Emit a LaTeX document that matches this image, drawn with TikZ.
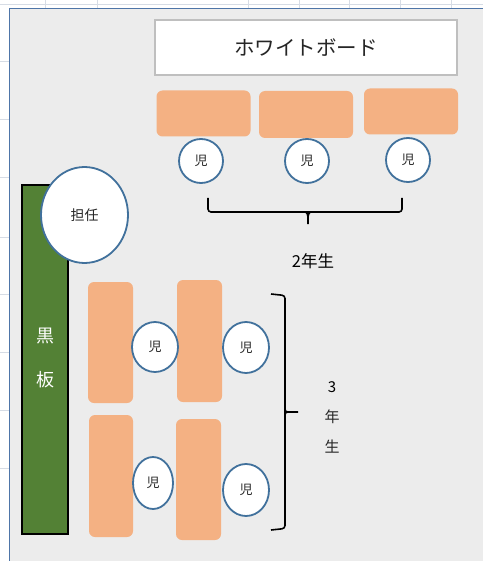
\documentclass[tikz,border=0pt]{standalone}
\usepackage{fontspec}
\setmainfont{Noto Sans CJK JP}
\usetikzlibrary{shapes.geometric}
\definecolor{deskc}{HTML}{F4B183}
\definecolor{boardg}{HTML}{538135}
\definecolor{ringc}{HTML}{41719C}
\definecolor{panelc}{HTML}{ECECEC}
\definecolor{gridc}{HTML}{D6DCE5}
\definecolor{edgec}{HTML}{4E75A8}
\definecolor{wbedge}{HTML}{BFBFBF}
\definecolor{txtc}{HTML}{262626}
\tikzset{
  desk/.style={fill=deskc, draw=none, rounded corners=6pt, inner sep=0pt},
  kid/.style={ellipse, draw=ringc, line width=1.8pt, fill=white, inner sep=0pt, font=\fontsize{13}{13}\selectfont, text=txtc},
  brace/.style={line width=1.6pt, black},
  gridl/.style={gridc, line width=1pt}
}
\begin{document}
\begin{tikzpicture}[x=1pt,y=-1pt]
\useasboundingbox (0,0) rectangle (483,561);
\fill[white] (0,0) rectangle (483,561);
% spreadsheet grid
\draw[gridl] (0,5) -- (483,5);
\foreach \gx in {45,97,248,299,349,400,451} \draw[gridl] (\gx,0) -- (\gx,9);
\foreach \gy in {62,120,178,237,294,352,410,468} \draw[gridl] (0,\gy) -- (10,\gy);
% panel
\fill[panelc] (9.5,8.5) rectangle (483,561);
\draw[edgec, line width=1.6pt] (9.5,561) -- (9.5,8.5) -- (483,8.5);
% whiteboard
\node[draw=wbedge, line width=1.4pt, fill=white, minimum width=302pt, minimum height=55pt, inner sep=0pt, font=\fontsize{20.5}{20.5}\selectfont, text=txtc] (wb) at (306,47.5) {ホワイトボード};
% top desks
\node[desk, minimum width=94pt, minimum height=46pt] (d1) at (203.5,113.5) {};
\node[desk, minimum width=94pt, minimum height=47pt] (d2) at (306,114.5) {};
\node[desk, minimum width=94pt, minimum height=46pt] (d3) at (411,111.5) {};
% top kids
\node[kid, minimum width=44pt, minimum height=44pt] (k1) at (201,161) {児};
\node[kid, minimum width=44pt, minimum height=44pt] (k2) at (307,161) {児};
\node[kid, minimum width=44pt, minimum height=44pt] (k3) at (408,160) {児};
% top brace
\coordinate (b2l) at (208,198);
\coordinate (b2r) at (402,198);
\coordinate (b2t) at (308,224);
\draw[brace, rounded corners=3pt] (b2l) -- (208,212) -- (402,212) -- (b2r);
\draw[brace] (302,212) .. controls (307,212) .. (308,217) -- (b2t);
\draw[brace] (314,212) .. controls (309,212) .. (308,217);
\node[font=\fontsize{16.5}{16.5}\selectfont, text=black] (g2) at (313,261) {2年生};
% blackboard
\node[fill=boardg, draw=black, line width=2pt, minimum width=46pt, minimum height=348pt, inner sep=0pt] (bb) at (44.5,359.5) {};
\node[text=white, font=\fontsize{18}{18}\selectfont] (bb1) at (45,336) {黒};
\node[text=white, font=\fontsize{18}{18}\selectfont] (bb2) at (45,380) {板};
% teacher
\node[kid, minimum width=87pt, minimum height=96pt, font=\fontsize{14}{14}\selectfont] (tch) at (84.5,215) {担任};
% lower desks
\node[desk, minimum width=45pt, minimum height=121pt] (d4) at (110.5,342.5) {};
\node[desk, minimum width=45pt, minimum height=122pt] (d5) at (199.5,341) {};
\node[desk, minimum width=44pt, minimum height=122pt] (d6) at (111,476) {};
\node[desk, minimum width=45pt, minimum height=121pt] (d7) at (198.5,479.5) {};
% lower kids
\node[kid, minimum width=46pt, minimum height=50pt] (k4) at (155,347) {児};
\node[kid, minimum width=46pt, minimum height=51pt] (k5) at (246,347.5) {児};
\node[kid, minimum width=40pt, minimum height=52pt] (k6) at (153,483) {児};
\node[kid, minimum width=46pt, minimum height=52pt] (k7) at (246,490) {児};
% right brace
\coordinate (b3t) at (271,294);
\coordinate (b3b) at (271,530);
\coordinate (b3p) at (298,412);
\draw[brace, rounded corners=3pt] (b3t) -- (285,295.5) -- (285,528.5) -- (b3b);
\draw[brace] (285,406) .. controls (285,412) .. (291,412) -- (b3p);
\draw[brace] (285,418) .. controls (285,412) .. (291,412);
\node[font=\fontsize{15}{15}\selectfont, text=black] (g3a) at (332,387) {3};
\node[font=\fontsize{15}{15}\selectfont, text=txtc] (g3b) at (332,417) {年};
\node[font=\fontsize{15}{15}\selectfont, text=txtc] (g3c) at (332,447) {生};
\end{tikzpicture}
\end{document}
